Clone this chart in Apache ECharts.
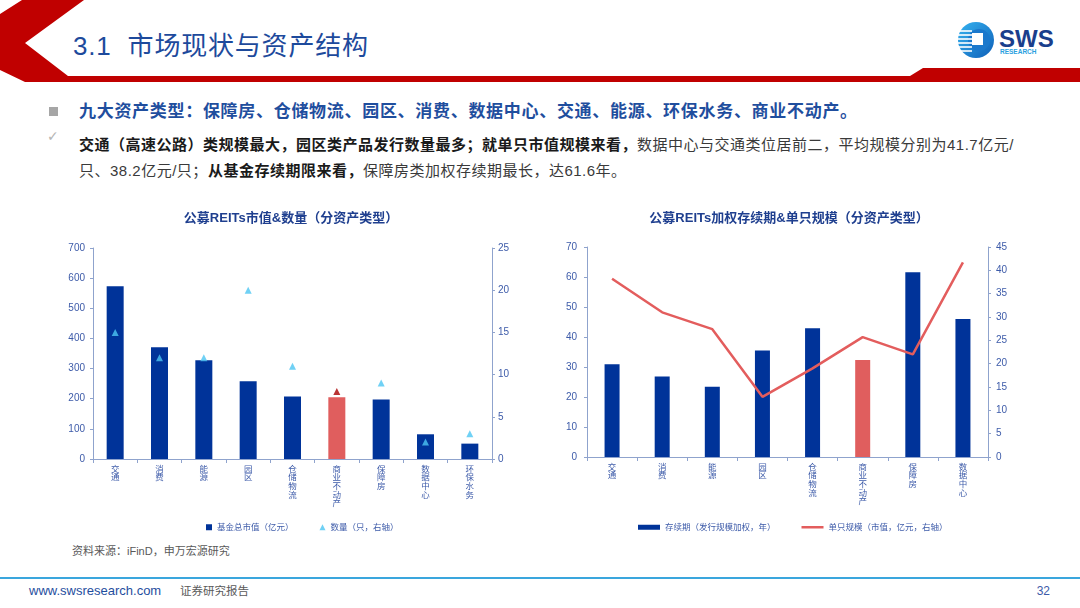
<!DOCTYPE html>
<html><head><meta charset="utf-8">
<script src="https://cdn.jsdelivr.net/npm/echarts@6/dist/echarts.min.js"></script>
<style>
html,body{margin:0;padding:0;background:#fff;}
#page{position:relative;width:1080px;height:608px;overflow:hidden;font-family:'Liberation Sans','Noto Sans CJK SC',sans-serif;background:#fff;}
.abs{position:absolute;white-space:nowrap;}
#chart{position:absolute;left:0;top:0;width:1080px;height:608px;}
b{font-weight:bold;color:#1a1a1a;}
</style></head>
<body><div id="page">
<svg class="abs" style="left:0;top:0" width="1080" height="100">
  <polygon points="0,14 22,0 84,0 25,43 68,76 910,76 923,68 1080,68 1080,82 25,82 0,70" fill="#C00000"/>
  <defs><linearGradient id="lg" x1="0" y1="0" x2="1" y2="1"><stop offset="0" stop-color="#35B3F0"/><stop offset="1" stop-color="#0E5FB8"/></linearGradient></defs>
  <circle cx="976" cy="40" r="18" fill="url(#lg)"/>
  <circle cx="979" cy="40" r="11" fill="#1B78CC"/>
  <g stroke="#fff" stroke-width="1.6">
    <line x1="957" y1="31" x2="972" y2="31"/><line x1="957" y1="35" x2="972" y2="35"/>
    <line x1="957" y1="39" x2="972" y2="39"/><line x1="957" y1="43" x2="972" y2="43"/>
    <line x1="957" y1="47" x2="972" y2="47"/><line x1="958" y1="51" x2="972" y2="51"/>
  </g>
  <rect x="972" y="33" width="11" height="12" fill="#fff"/>
  <text x="999" y="47" font-family="Liberation Sans" font-weight="bold" font-size="24" fill="#1A3E8C">SWS</text>
  <text x="1000" y="54" font-family="Liberation Sans" font-weight="bold" font-size="6.5" fill="#2A9FE0">RESEARCH</text>
</svg>
<div class="abs" style="left:73px;top:29px;font-size:26px;line-height:34px;color:#1D4A9C;letter-spacing:0.8px;">3.1&nbsp; 市场现状与资产结构</div>
<div class="abs" style="left:49px;top:107px;width:9px;height:9px;background:#A6A6A6;"></div>
<div class="abs" style="left:79px;top:100px;font-size:17px;line-height:24px;font-weight:bold;color:#1F4E9E;letter-spacing:0.7px;">九大资产类型：保障房、仓储物流、园区、消费、数据中心、交通、能源、环保水务、商业不动产。</div>
<div class="abs" style="left:47px;top:126px;font-size:14px;line-height:20px;color:#B5B5B5;font-family:'DejaVu Sans';">✓</div>
<div class="abs" style="left:79px;top:132px;font-size:15px;line-height:26px;color:#3a3a3a;letter-spacing:0.5px;"><b>交通（高速公路）类规模最大，园区类产品发行数量最多；就单只市值规模来看，</b>数据中心与交通类位居前二，平均规模分别为41.7亿元/<br>只、38.2亿元/只；<b>从基金存续期限来看，</b>保障房类加权存续期最长，达61.6年。</div>
<div class="abs" style="left:72px;top:543px;font-size:11px;line-height:16px;color:#595959;">资料来源：iFinD，申万宏源研究</div>
<div class="abs" style="left:0;top:577px;width:1080px;height:2px;background:#3AA6DD;"></div>
<div class="abs" style="left:29px;top:583px;font-size:13px;line-height:16px;color:#1F4E9E;">www.swsresearch.com</div>
<div class="abs" style="left:180px;top:583px;font-size:11.5px;line-height:16px;color:#595959;">证券研究报告</div>
<div class="abs" style="left:1030px;top:583px;width:20px;text-align:right;font-size:12px;line-height:16px;color:#3D5BA9;">32</div>
<div id="chart"></div>
</div>
<script>
// ---- data ----
const catsLeft = ['交通','消费','能源','园区','仓储物流','商业不动产','保障房','数据中心','环保水务'];
const marketValue = [573, 371, 328, 258, 207, 205, 197, 82, 51];   // 亿元
const fundCount = [15, 12, 12, 20, 11, 8, 9, 2, 3];                // 只
const catsRight = ['交通','消费','能源','园区','仓储物流','商业不动产','保障房','数据中心'];
const duration = [30.9, 26.8, 23.4, 35.5, 42.9, 32.3, 61.6, 46.0]; // 年
const avgSize = [38.2, 31.0, 27.4, 12.9, 19.0, 25.7, 22.0, 41.7];  // 亿元
const highlightCat = '商业不动产';

const axisColor = '#8FA3CD';
const labelColor = '#3D5BA9';
const fontFam = "'Liberation Sans','Noto Sans CJK SC',sans-serif";
const vertical = s => s.split('').join('\n');
const thinLineIcon = 'path://M0,0L0,0ZM0,1.3L22,1.3L22,3.7L0,3.7ZM22,5L22,5Z';

function catAxis(gi, data) {
  return {
    type: 'category', gridIndex: gi, data: data, boundaryGap: true,
    axisLine: {show: true, lineStyle: {color: axisColor, width: 1}},
    axisTick: {show: true, length: 4, alignWithLabel: false, lineStyle: {color: axisColor}},
    axisLabel: {interval: 0, formatter: vertical, fontSize: 8.5, lineHeight: 8.7, color: labelColor, margin: 6}
  };
}
function valAxis(gi, min, max, interval, pos, margin) {
  return {
    type: 'value', gridIndex: gi, min: min, max: max, interval: interval, position: pos,
    axisLine: {show: true, lineStyle: {color: axisColor, width: 1}},
    axisTick: {show: true, length: 3, lineStyle: {color: axisColor}},
    splitLine: {show: false},
    axisLabel: {fontSize: 10, color: labelColor, margin: margin}
  };
}

const chart = echarts.init(document.getElementById('chart'));
chart.setOption({
  animation: false,
  backgroundColor: 'transparent',
  textStyle: {fontFamily: fontFam},
  title: [
    {text: '公募REITs市值&数量（分资产类型）', left: 286, top: 207, textAlign: 'center',
     textStyle: {fontSize: 13, fontWeight: 'bold', color: '#1F3F8F', fontFamily: fontFam}},
    {text: '公募REITs加权存续期&单只规模（分资产类型）', left: 784, top: 207, textAlign: 'center',
     textStyle: {fontSize: 13, fontWeight: 'bold', color: '#1F3F8F', fontFamily: fontFam}}
  ],
  legend: [
    {data: [{name: '基金总市值（亿元）', icon: 'rect'}, {name: '数量（只，右轴）', icon: 'triangle'}],
     left: 201, top: 518, itemWidth: 6, itemHeight: 6, itemGap: 26,
     textStyle: {fontSize: 8.5, color: labelColor}},
    {data: [{name: '存续期（发行规模加权，年）', icon: 'rect'}, {name: '单只规模（市值，亿元，右轴）', icon: thinLineIcon}],
     left: 633, top: 518, itemWidth: 22, itemHeight: 5, itemGap: 26,
     textStyle: {fontSize: 8.5, color: labelColor}}
  ],
  grid: [
    {left: 93, right: 588, top: 248, bottom: 149},
    {left: 587, right: 92, top: 247, bottom: 151}
  ],
  xAxis: [catAxis(0, catsLeft), catAxis(1, catsRight)],
  yAxis: [
    valAxis(0, 0, 700, 100, 'left', 8),
    valAxis(0, 0, 25, 5, 'right', 6),
    valAxis(1, 0, 70, 10, 'left', 10),
    valAxis(1, 0, 45, 5, 'right', 8)
  ],
  series: [
    {name: '基金总市值（亿元）', type: 'bar', xAxisIndex: 0, yAxisIndex: 0, barWidth: 17,
     itemStyle: {color: '#003399'},
     data: marketValue.map((v, i) => catsLeft[i] === highlightCat ? {value: v, itemStyle: {color: '#E05E5E'}} : v)},
    {name: '数量（只，右轴）', type: 'scatter', xAxisIndex: 0, yAxisIndex: 1, symbol: 'triangle', symbolSize: 7,
     itemStyle: {color: '#4CC6F2'},
     data: fundCount.map((v, i) => catsLeft[i] === highlightCat ? {value: v, itemStyle: {color: '#A80000'}} : v)},
    {name: '存续期（发行规模加权，年）', type: 'bar', xAxisIndex: 1, yAxisIndex: 2, barWidth: 15,
     itemStyle: {color: '#003399'},
     data: duration.map((v, i) => catsRight[i] === highlightCat ? {value: v, itemStyle: {color: '#E05E5E'}} : v)},
    {name: '单只规模（市值，亿元，右轴）', type: 'line', xAxisIndex: 1, yAxisIndex: 3, symbol: 'none', showSymbol: false,
     lineStyle: {color: '#E35D5D', width: 2.5}, itemStyle: {color: '#E35D5D'}, z: 5,
     data: avgSize}
  ]
});
</script>
</body></html>
